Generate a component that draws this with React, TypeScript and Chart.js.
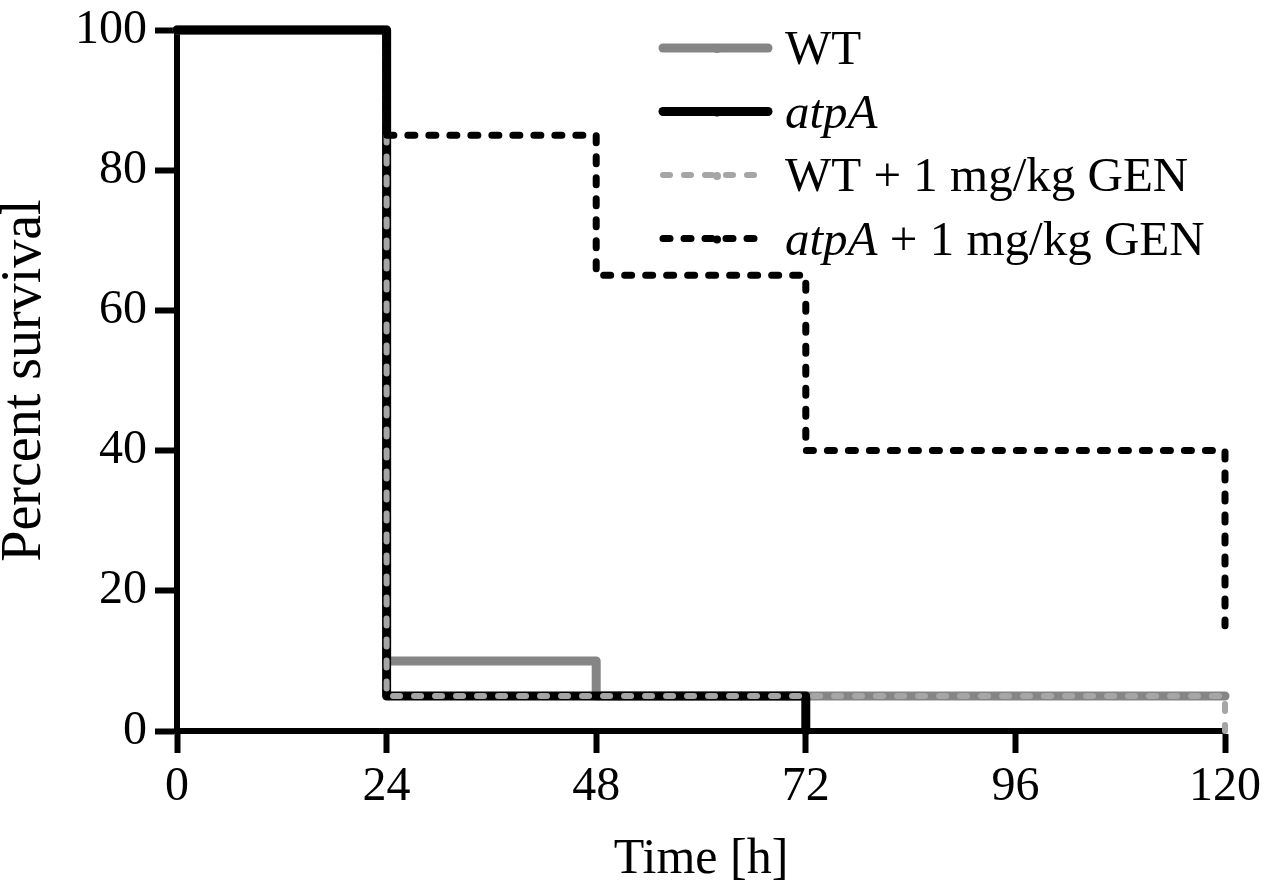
import { useEffect, useRef } from 'react'
import { Chart, registerables } from 'chart.js'

Chart.register(...registerables)

const FONT = "'Liberation Serif', 'Times New Roman', Times, serif"

// axis ticks
const xTicks = [0, 24, 48, 72, 96, 120]
const yTicks = [0, 20, 40, 60, 80, 100]

// survival curves: time (h) of each step and percent surviving from then on
const wtTimes = [0, 24, 48, 120]
const wtSurvival = [100, 10, 5, 5]
const atpATimes = [0, 24, 72]
const atpASurvival = [100, 5, 0]
const wtGenTimes = [0, 24, 120]
const wtGenSurvival = [100, 5, 0]
const atpAGenTimes = [0, 24, 48, 72, 120]
const atpAGenSurvival = [100, 85, 65, 40, 15]

const seriesLabels = ['WT', 'atpA', 'WT + 1 mg/kg GEN', 'atpA + 1 mg/kg GEN']

const toPoints = (xs: number[], ys: number[]) => xs.map((x, i) => ({ x, y: ys[i] }))

// custom legend so the strain name can be set in italics
const stepLegend = {
  id: 'stepLegend',
  afterDraw(chart: any) {
    const { ctx } = chart
    ctx.save()
    chart.data.datasets.forEach((ds: any, i: number) => {
      const y = 48 + i * 63.5
      ctx.beginPath()
      ctx.strokeStyle = ds.borderColor
      ctx.lineWidth = ds.borderWidth
      ctx.lineCap = 'round'
      ctx.setLineDash(ds.borderDash || [])
      ctx.moveTo(663, y)
      ctx.lineTo(768, y)
      ctx.stroke()
      ctx.setLineDash([])
      ctx.beginPath()
      ctx.arc(717, y + 1, 4, 0, Math.PI * 2)
      ctx.fillStyle = ds.borderColor
      ctx.fill()

      const label: string = ds.label
      const parts: [string, boolean][] = label.startsWith('atpA')
        ? [['atpA', true], [label.slice(4), false]]
        : [[label, false]]
      let x = 785
      ctx.fillStyle = '#000'
      ctx.textBaseline = 'alphabetic'
      ctx.textAlign = 'left'
      for (const [t, italic] of parts) {
        ctx.font = `${italic ? 'italic ' : ''}49px ${FONT}`
        ctx.fillText(t, x, y + 16)
        x += ctx.measureText(t).width
      }
    })
    ctx.restore()
  },
}

export default function App() {
  const canvasRef = useRef<HTMLCanvasElement | null>(null)

  useEffect(() => {
    document.body.style.margin = '0'
    const ctx = canvasRef.current?.getContext('2d')
    if (!ctx) return

    const line = (
      label: string,
      data: { x: number; y: number }[],
      color: string,
      width: number,
      dash: number[],
      order: number
    ) => ({
      label,
      data,
      borderColor: color,
      backgroundColor: color,
      borderWidth: width,
      borderDash: dash,
      borderCapStyle: 'round' as const,
      borderJoinStyle: 'round' as const,
      stepped: 'before' as const,
      pointRadius: 0,
      fill: false,
      clip: false as const,
      order,
    })

    const chart = new Chart(ctx, {
      type: 'line',
      data: {
        datasets: [
          line(seriesLabels[0], toPoints(wtTimes, wtSurvival), '#858585', 9, [], 4),
          line(seriesLabels[1], toPoints(atpATimes, atpASurvival), '#000000', 9, [], 3),
          line(seriesLabels[2], toPoints(wtGenTimes, wtGenSurvival), '#a5a5a5', 6, [7, 14], 2),
          line(seriesLabels[3], toPoints(atpAGenTimes, atpAGenSurvival), '#000000', 7, [7, 14], 1),
        ],
      },
      options: {
        animation: false,
        responsive: true,
        maintainAspectRatio: false,
        layout: { padding: { top: 30, right: 41, left: 0, bottom: 0 } },
        plugins: { legend: { display: false }, tooltip: { enabled: false } },
        scales: {
          x: {
            type: 'linear',
            min: 0,
            max: 120,
            afterBuildTicks: (s: any) => {
              s.ticks = xTicks.map((v) => ({ value: v }))
            },
            afterFit: (s: any) => {
              s.height = 164
            },
            ticks: { color: '#000', font: { family: FONT, size: 48 }, padding: 6, maxRotation: 0 },
            grid: { drawOnChartArea: false, drawTicks: true, tickLength: 22, tickWidth: 6, tickColor: '#000' },
            border: { display: true, color: '#000', width: 6 },
            title: {
              display: true,
              text: 'Time [h]',
              color: '#000',
              font: { family: FONT, size: 50, lineHeight: 1.2 },
              padding: { top: 0, bottom: 5 },
            },
          },
          y: {
            min: 0,
            max: 100,
            afterBuildTicks: (s: any) => {
              s.ticks = yTicks.map((v) => ({ value: v }))
            },
            afterFit: (s: any) => {
              s.width = 177
              s.paddingTop = 0
              s.paddingBottom = 0
            },
            ticks: { color: '#000', font: { family: FONT, size: 48 }, padding: 8 },
            grid: { drawOnChartArea: false, drawTicks: true, tickLength: 22, tickWidth: 6, tickColor: '#000' },
            border: { display: true, color: '#000', width: 6 },
            title: {
              display: true,
              text: 'Percent survival',
              color: '#000',
              font: { family: FONT, size: 56, lineHeight: 0.9 },
              padding: 0,
            },
          },
        },
      },
      plugins: [stepLegend],
    })

    return () => chart.destroy()
  }, [])

  return (
    <div style={{ width: 1267, height: 895, position: 'relative', background: '#fff' }}>
      <canvas ref={canvasRef} />
    </div>
  )
}
